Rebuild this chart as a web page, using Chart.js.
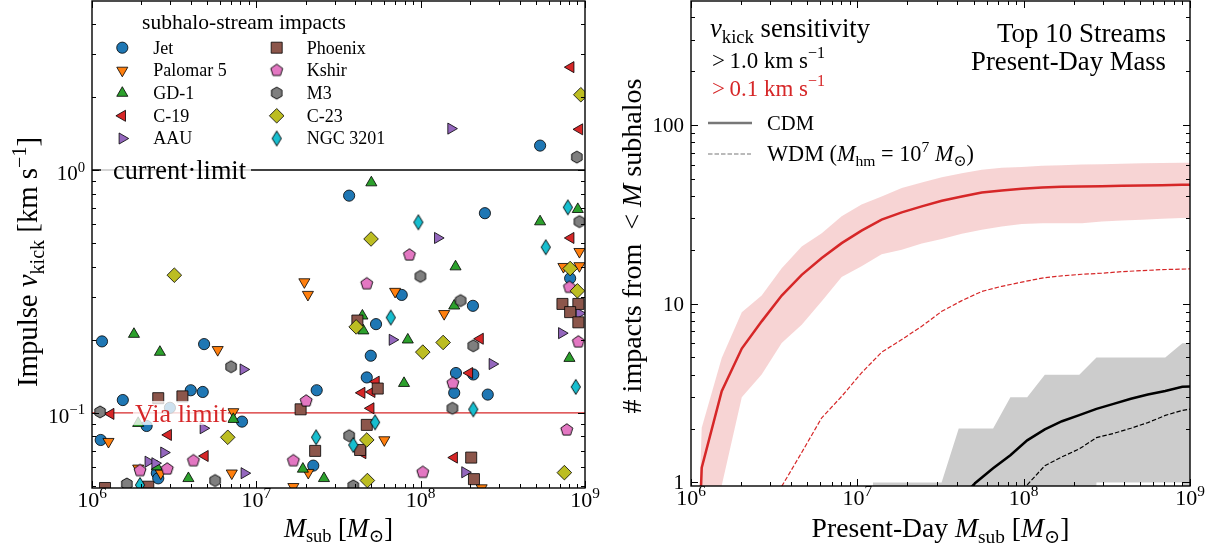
<!DOCTYPE html>
<html>
<head>
<meta charset="utf-8">
<script src="https://cdn.jsdelivr.net/npm/chart.js@4.4.1/dist/chart.umd.min.js"></script>
<style>
  body { margin: 0; background: #fff; }
  #wrap { position: relative; width: 1215px; height: 550px; }
  canvas { position: absolute; top: 0; }
</style>
</head>
<body>
<div id="wrap">
  <canvas id="impactChart" width="600" height="550" style="left:0"></canvas>
  <canvas id="countChart" width="615" height="550" style="left:600px"></canvas>
</div>
<script>
// ---- left panel: individual subhalo-stream impacts, [M_sub (Msun), v_kick (km/s)] ----
const streamNames = ['Jet', 'Palomar 5', 'GD-1', 'C-19', 'AAU', 'Phoenix', 'Kshir', 'M3', 'C-23', 'NGC 3201'];

const jetImpacts = [
  [1.15e6, 0.197], [4.81e6, 0.192], [1.54e6, 0.113], [2.98e6, 0.105], [3.99e6, 0.124], [4.72e6, 0.122],
  [8.18e6, 0.0921], [2.15e6, 0.0884], [1.13e6, 0.0774], [2.48e6, 0.0565], [2.53e6, 0.0538],
  [2.33e7, 0.124], [2.22e7, 0.0607], [5.33e8, 1.26], [3.67e7, 0.784], [2.46e8, 0.664], [8.12e8, 0.358],
  [7.67e7, 0.306], [2.08e8, 0.276], [5.35e7, 0.232], [4.97e7, 0.172], [1.64e8, 0.146], [2.09e8, 0.144],
  [1.60e8, 0.121], [2.56e8, 0.119], [4.70e7, 0.140]
];
const pal5Impacts = [
  [5.82e6, 0.182], [7.24e6, 0.101], [1.26e6, 0.0762], [2.62e6, 0.0565], [1.91e6, 0.0592], [7.09e6, 0.0565],
  [2.07e7, 0.0568], [1.68e7, 0.0497], [1.96e7, 0.346], [2.06e7, 0.307], [6.99e7, 0.316], [1.39e8, 0.256],
  [9.25e8, 0.461], [7.39e8, 0.400], [9.25e8, 0.403], [6.01e7, 0.0774], [2.35e8, 0.0491]
];
const gd1Impacts = [
  [1.80e6, 0.211], [2.59e6, 0.178], [7.24e6, 0.0942], [1.91e6, 0.0907], [2.48e6, 0.0601], [3.86e6, 0.0538],
  [1.92e7, 0.0588], [2.58e7, 0.0538], [5.01e7, 0.887], [5.33e8, 0.613], [9.04e8, 0.689], [1.63e8, 0.400],
  [1.60e8, 0.276], [4.42e7, 0.251], [4.48e7, 0.218], [8.35e7, 0.200], [8.04e8, 0.168], [7.92e7, 0.1325]
];
const c19Impacts = [
  [1.30e6, 0.0991], [2.91e6, 0.0812], [4.87e6, 0.0665], [8.19e8, 2.65], [9.25e8, 1.47], [8.19e8, 0.525],
  [2.30e8, 0.202], [1.98e8, 0.146], [5.35e7, 0.1345], [4.38e7, 0.121], [5.04e7, 0.122], [4.97e7, 0.1045],
  [4.44e7, 0.0683], [1.60e8, 0.0655]
];
const aauImpacts = [
  [8.33e6, 0.151], [4.76e6, 0.0865], [2.74e6, 0.0687], [2.20e6, 0.0630], [2.42e6, 0.0621], [8.45e6, 0.0565],
  [1.53e8, 1.48], [1.27e8, 0.525], [6.73e7, 0.200], [7.22e8, 0.213], [2.73e8, 0.159], [1.86e8, 0.0570],
  [9.25e8, 0.257]
];
const phoenixImpacts = [
  [2.53e6, 0.115], [3.55e6, 0.117], [2.20e6, 0.0497], [1.20e6, 0.0491], [1.86e7, 0.1035], [2.28e7, 0.0698],
  [4.12e7, 0.240], [5.48e7, 0.126], [4.70e7, 0.0893], [4.28e7, 0.0704], [2.03e8, 0.0655], [2.11e8, 0.0534],
  [7.29e8, 0.281], [9.11e8, 0.281], [8.12e8, 0.260], [9.11e8, 0.236]
];
const kshirImpacts = [
  [2.01e7, 0.112], [1.68e7, 0.0636], [4.14e6, 0.0636], [1.96e6, 0.0579], [2.87e6, 0.0588], [8.54e7, 0.447],
  [4.70e7, 0.340], [8.04e8, 0.329], [9.11e8, 0.196], [1.57e8, 0.1325], [7.75e8, 0.0851], [1.03e8, 0.0570]
];
const m3Impacts = [
  [7.02e6, 0.155], [1.12e6, 0.101], [5.61e6, 0.0527], [1.63e6, 0.0510], [8.92e8, 1.13], [9.25e8, 0.613],
  [9.96e7, 0.365], [1.75e8, 0.290], [2.09e8, 0.189], [1.56e8, 0.1045], [3.67e7, 0.0806], [3.89e7, 0.0501]
];
const c23Impacts = [
  [6.70e6, 0.0794], [3.17e6, 0.369], [9.43e8, 2.04], [4.99e7, 0.520], [8.12e8, 0.393], [8.99e8, 0.318],
  [4.05e7, 0.226], [1.37e8, 0.195], [1.03e8, 0.178], [4.70e7, 0.0774], [7.49e8, 0.0568], [4.74e7, 0.0527]
];
const ngc3201Impacts = [
  [2.31e7, 0.0794], [1.96e6, 0.0505], [9.68e7, 0.609], [7.86e8, 0.702], [5.77e8, 0.481], [6.58e7, 0.247],
  [8.79e8, 0.128], [2.09e8, 0.1035], [5.28e7, 0.0915], [3.89e7, 0.0738]
];
const streamImpacts = [jetImpacts, pal5Impacts, gd1Impacts, c19Impacts, aauImpacts,
  phoenixImpacts, kshirImpacts, m3Impacts, c23Impacts, ngc3201Impacts];

// velocity sensitivity limits (km/s)
const currentLimit = 1.0;
const viaLimit = 0.1;

// ---- right panel: cumulative impacts on the top 10 streams ----
const ZERO = 1e-3; // no impacts (sits far below the log axis)

const massRed = [8.79e5, 1.16e6, 1.53e6, 2.02e6, 2.66e6, 3.51e6, 4.63e6, 6.11e6, 8.05e6, 1.06e7, 1.40e7,
  1.85e7, 2.44e7, 3.22e7, 4.25e7, 5.60e7, 7.38e7, 9.75e7, 1.29e8, 1.69e8, 2.24e8, 2.95e8, 3.89e8,
  5.13e8, 6.78e8, 8.93e8, 1.18e9];
// v_kick > 0.1 km/s
const cdmFast = [ZERO, 1.21, 3.24, 5.61, 7.96, 11.1, 14.5, 18.0, 21.8, 25.6, 29.5, 32.4, 35.0, 37.6,
  39.7, 41.8, 42.9, 43.9, 44.6, 45.1, 45.2, 45.4, 45.6, 45.8, 46.0, 46.2, 46.3];
const cdmFastHi = [ZERO, 2.02, 4.97, 8.94, 11.1, 15.8, 20.9, 24.8, 30.8, 35.8, 39.7, 44.3, 47.6, 51.0,
  53.7, 56.1, 57.5, 58.2, 59.0, 59.4, 60.0, 60.3, 60.7, 61.0, 61.2, 61.4, 61.4];
const cdmFastLo = [ZERO, ZERO, 0.96, 3.0, 4.01, 6.03, 7.63, 10.3, 14.1, 16.2, 18.9, 20.0, 21.7, 23.0,
  24.6, 25.9, 27.0, 27.9, 28.2, 28.2, 28.2, 28.8, 29.2, 29.5, 29.8, 30.1, 30.2];
const wdmFast = [null, null, null, null, null, 0.95, 1.47, 2.30, 3.03, 4.10, 5.35, 6.30, 7.47, 9.06,
  10.4, 11.7, 12.5, 13.2, 13.9, 14.3, 14.6, 14.8, 15.1, 15.3, 15.5, 15.6, 15.7];

const massBlack = [1.24e7, 1.57e7, 1.99e7, 2.53e7, 3.21e7, 4.07e7, 5.16e7, 6.55e7, 8.32e7, 1.05e8,
  1.34e8, 1.70e8, 2.16e8, 2.74e8, 3.47e8, 4.41e8, 5.58e8, 7.10e8, 8.99e8, 1.14e9];
// v_kick > 1.0 km/s
const cdmSlow = [null, null, null, null, null, 0.80, 1.0, 1.20, 1.42, 1.72, 1.98, 2.20, 2.38, 2.58,
  2.75, 2.94, 3.10, 3.25, 3.43, 3.45];
const cdmSlowHi = [1, 1, 1, 1, 1, 2, 2, 2, 3, 3, 4, 4, 4, 5, 5, 5, 5, 5, 6, 6];
const cdmSlowLo = [ZERO, ZERO, ZERO, ZERO, ZERO, ZERO, ZERO, ZERO, ZERO, ZERO, ZERO, ZERO, ZERO,
  1, 1, 1, 1, 1, 1, ZERO];
const wdmSlow = [null, null, null, null, null, null, null, null, 0.75, 0.97, 1.24, 1.39, 1.54, 1.78,
  1.88, 2.01, 2.16, 2.37, 2.53, 2.62];

// ---- axis ticks ----
const massTicks = [1e6, 1e7, 1e8, 1e9];
const massTickLabels = ['10^6', '10^7', '10^8', '10^9'];
const kickTicks = [0.1, 1];
const kickTickLabels = ['10^-1', '10^0'];
const countTicks = [1, 10, 100];
const countTickLabels = ['1', '10', '100'];

const SERIF = '"Liberation Serif", "DejaVu Serif", serif';
const RED = '#d62728';

// ---------- marker shapes ----------
function markerCanvas(w, h, color, path) {
  const c = document.createElement('canvas');
  c.width = w; c.height = h;
  const g = c.getContext('2d');
  g.translate(w / 2, h / 2);
  g.beginPath(); path(g); g.closePath();
  g.fillStyle = color; g.fill();
  g.lineWidth = 0.9; g.strokeStyle = '#000'; g.stroke();
  return c;
}
function polygon(n, r) {
  return g => {
    for (let k = 0; k < n; k++) {
      const a = k * 2 * Math.PI / n;
      const px = r * Math.sin(a), py = -r * Math.cos(a);
      if (k) g.lineTo(px, py); else g.moveTo(px, py);
    }
  };
}
const thinDiamond = g => { g.moveTo(0, -7.5); g.lineTo(4.6, 0); g.lineTo(0, 7.5); g.lineTo(-4.6, 0); };

const streamColors = ['#1f77b4', '#ff7f0e', '#2ca02c', '#d62728', '#9467bd',
  '#8c564b', '#e377c2', '#7f7f7f', '#bcbd22', '#17becf'];
const streamMarkers = [
  { pointStyle: 'circle', radius: 5.6 },
  { pointStyle: 'triangle', radius: 6.4, rotation: 180 },
  { pointStyle: 'triangle', radius: 6.4, rotation: 0 },
  { pointStyle: 'triangle', radius: 6.4, rotation: 270 },
  { pointStyle: 'triangle', radius: 6.4, rotation: 90 },
  { pointStyle: 'rect', radius: 7.8 },
  { pointStyle: markerCanvas(16, 16, streamColors[6], polygon(5, 6.3)), radius: 6 },
  { pointStyle: markerCanvas(16, 16, streamColors[7], polygon(6, 6.0)), radius: 6 },
  { pointStyle: 'rectRot', radius: 7.3 },
  { pointStyle: markerCanvas(12, 18, streamColors[9], thinDiamond), radius: 6 }
];

// ---------- text helpers (mathtext-like runs) ----------
function partFont(p, size) {
  const s = (p.sub || p.sup) ? size * 0.7 : size;
  return (p.i ? 'italic ' : '') + s.toFixed(2) + 'px ' + SERIF;
}
function richWidth(ctx, parts, size) {
  let w = 0;
  for (const p of parts) { ctx.font = partFont(p, size); w += ctx.measureText(p.t).width; }
  return w;
}
function drawRich(ctx, parts, x, y, o) {
  let size = o.size || 20;
  if (o.width) size *= o.width / richWidth(ctx, parts, size);
  const w = richWidth(ctx, parts, size);
  ctx.save();
  ctx.translate(x, y);
  if (o.rotate) ctx.rotate(o.rotate);
  ctx.fillStyle = o.color || '#000';
  ctx.textAlign = 'left';
  ctx.textBaseline = 'alphabetic';
  let cx = o.align === 'center' ? -w / 2 : o.align === 'right' ? -w : 0;
  for (const p of parts) {
    ctx.font = partFont(p, size);
    const dy = p.sub ? size * 0.22 : p.sup ? -size * 0.4 : 0;
    ctx.fillText(p.t, cx, size * 0.33 + dy);
    cx += ctx.measureText(p.t).width;
  }
  ctx.restore();
}
// '10^-1' -> base + superscript runs
function tickParts(label) {
  const [base, exp] = label.split('^');
  return exp === undefined ? [{ t: base }] : [{ t: base }, { t: exp.replace('-', '−'), sup: 1 }];
}

// ---------- inward ticks on all four sides, frame, tick labels ----------
function logTicks(min, max) {
  const out = [];
  for (let e = Math.floor(Math.log10(min)); e <= Math.ceil(Math.log10(max)); e++) {
    for (let m = 1; m < 10; m++) {
      const v = m * Math.pow(10, e);
      if (v >= min * 0.999 && v <= max * 1.001) out.push({ v, major: m === 1 });
    }
  }
  return out;
}
const tickText = {};
const framePlugin = {
  id: 'frame',
  afterDraw(chart) {
    const { ctx, chartArea: a, scales } = chart;
    ctx.save();
    ctx.strokeStyle = '#000';
    ctx.lineWidth = 1;
    ctx.beginPath();
    for (const t of logTicks(scales.x.min, scales.x.max)) {
      const px = Math.round(scales.x.getPixelForValue(t.v)) + 0.5;
      const len = t.major ? 7 : 4;
      ctx.moveTo(px, a.bottom); ctx.lineTo(px, a.bottom - len);
      ctx.moveTo(px, a.top); ctx.lineTo(px, a.top + len);
    }
    for (const t of logTicks(scales.y.min, scales.y.max)) {
      const py = Math.round(scales.y.getPixelForValue(t.v)) + 0.5;
      const len = t.major ? 7 : 4;
      ctx.moveTo(a.left, py); ctx.lineTo(a.left + len, py);
      ctx.moveTo(a.right, py); ctx.lineTo(a.right - len, py);
    }
    ctx.stroke();
    ctx.lineWidth = 1.4;
    ctx.strokeRect(a.left, a.top, a.right - a.left, a.bottom - a.top);
    ctx.restore();

    const labels = tickText[chart.canvas.id];
    scales.x.ticks.forEach((t, i) => {
      drawRich(ctx, tickParts(labels.x[i]), scales.x.getPixelForValue(t.value), a.bottom + 12,
        { size: 22, align: 'center' });
    });
    scales.y.ticks.forEach((t, i) => {
      const parts = tickParts(labels.y[i]);
      drawRich(ctx, parts, a.left - 7, scales.y.getPixelForValue(t.value) + (parts.length > 1 ? 3 : 0),
        { size: 21, align: 'right' });
    });
  }
};

function logAxis(min, max, ticks, size) {
  return {
    type: 'logarithmic', min, max,
    grid: { display: false, drawTicks: false },
    border: { display: false },
    ticks: { display: false },
    afterBuildTicks: s => { s.ticks = ticks.map(v => ({ value: v })); },
    afterFit: s => {
      if (s.isHorizontal()) { s.height = size; s.paddingLeft = s.paddingRight = 0; }
      else { s.width = size; s.paddingTop = s.paddingBottom = 0; }
    }
  };
}

// ---------- left panel ----------
const impactLabels = {
  id: 'impactLabels',
  afterDatasetsDraw(chart) {
    const { ctx, chartArea: a, scales } = chart;
    // labels sitting on the two limit lines
    const yCur = scales.y.getPixelForValue(currentLimit);
    const yVia = scales.y.getPixelForValue(viaLimit);
    ctx.save();
    ctx.fillStyle = 'rgba(255,255,255,0.78)';
    ctx.fillRect(a.left + 9, yCur - 13, 150, 26);
    ctx.fillRect(a.left + 41, yVia - 12, 95, 24);
    ctx.restore();
    drawRich(ctx, [{ t: 'current·limit' }], a.left + 21, yCur, { size: 21, width: 133 });
    drawRich(ctx, [{ t: 'Via limit' }], a.left + 43, yVia, { size: 21, width: 92, color: RED });

    // legend, two columns
    drawRich(ctx, [{ t: 'subhalo-stream impacts' }], a.left + 50, 22, { size: 19, width: 204 });
    streamNames.forEach((name, i) => {
      const col = Math.floor(i / 5), row = i % 5;
      const y = 47.7 + row * 22.7;
      const mk = streamMarkers[i];
      ctx.save();
      ctx.fillStyle = streamColors[i];
      ctx.strokeStyle = '#000';
      ctx.lineWidth = 0.8;
      Chart.helpers.drawPoint(ctx, { pointStyle: mk.pointStyle, rotation: mk.rotation || 0,
        radius: mk.radius, borderWidth: 0.8 }, a.left + (col ? 184.7 : 30.3), y);
      ctx.restore();
      drawRich(ctx, [{ t: name }], a.left + (col ? 214.7 : 61.3), y, { size: 18 });
    });
  },
  afterDraw(chart) {
    const { ctx, chartArea: a } = chart;
    drawRich(ctx, [{ t: 'M', i: 1 }, { t: 'sub', sub: 1 }, { t: ' [' }, { t: 'M', i: 1 }, { t: '⊙', sub: 1 }, { t: ']' }],
      (a.left + a.right) / 2, 528, { size: 26, width: 109, align: 'center' });
    drawRich(ctx, [{ t: 'Impulse ' }, { t: 'v', i: 1 }, { t: 'kick', sub: 1 }, { t: ' [km s' }, { t: '−1', sup: 1 }, { t: ']' }],
      28, 262, { size: 26, width: 250, align: 'center', rotate: -Math.PI / 2 });
  }
};

const impactDatasets = streamNames.map((name, i) => ({
  label: name,
  data: streamImpacts[i].map(([m, v]) => ({ x: m, y: v })),
  backgroundColor: streamColors[i],
  borderColor: '#000',
  borderWidth: 0.8,
  pointStyle: streamMarkers[i].pointStyle,
  pointRadius: streamMarkers[i].radius,
  rotation: streamMarkers[i].rotation || 0,
  order: streamNames.length - i,
  clip: 0
}));

tickText.impactChart = { x: massTickLabels, y: kickTickLabels };
const impactChart = new Chart(document.getElementById('impactChart'), {
  type: 'scatter',
  data: {
    datasets: [
      { label: 'current limit', data: [{ x: 1e6, y: currentLimit }, { x: 1e9, y: currentLimit }],
        showLine: true, pointRadius: 0, borderColor: '#000', borderWidth: 1.3, order: 20, clip: 0 },
      { label: 'Via limit', data: [{ x: 1e6, y: viaLimit }, { x: 1e9, y: viaLimit }],
        showLine: true, pointRadius: 0, borderColor: RED, borderWidth: 1.3, order: 20, clip: 0 },
      ...impactDatasets
    ]
  },
  options: {
    responsive: false,
    animation: false,
    devicePixelRatio: 1,
    layout: { autoPadding: false, padding: { top: 1, right: 15, left: 0, bottom: 0 } },
    plugins: { legend: { display: false }, tooltip: { enabled: false } },
    scales: {
      x: logAxis(1e6, 1e9, massTicks, 62),
      y: logAxis(0.0491, 4.96, kickTicks, 92)
    }
  },
  plugins: [framePlugin, impactLabels]
});

// ---------- right panel ----------
const pts = (xs, ys) => xs.map((x, i) => ({ x, y: ys[i] }));
const NONE = 'rgba(0,0,0,0)';

const countLabels = {
  id: 'countLabels',
  afterDraw(chart) {
    const { ctx, chartArea: a } = chart;
    const L = a.left;
    drawRich(ctx, [{ t: 'v', i: 1 }, { t: 'kick', sub: 1 }, { t: ' sensitivity' }], L + 19, 28, { size: 21, width: 160 });
    drawRich(ctx, [{ t: '>\u20091.0 km s' }, { t: '−1', sup: 1 }], L + 21, 60, { size: 19, width: 113 });
    drawRich(ctx, [{ t: '>\u20090.1 km s' }, { t: '−1', sup: 1 }], L + 21, 88, { size: 19, width: 113, color: RED });

    ctx.save();
    ctx.strokeStyle = '#777';
    ctx.lineWidth = 2.5;
    ctx.beginPath(); ctx.moveTo(L + 17, 123); ctx.lineTo(L + 61, 123); ctx.stroke();
    ctx.lineWidth = 1.2;
    ctx.setLineDash([4.5, 2]);
    ctx.beginPath(); ctx.moveTo(L + 17, 154); ctx.lineTo(L + 60, 154); ctx.stroke();
    ctx.restore();
    drawRich(ctx, [{ t: 'CDM' }], L + 76, 123, { size: 20, width: 47 });
    drawRich(ctx, [{ t: 'WDM (' }, { t: 'M', i: 1 }, { t: 'hm', sub: 1 }, { t: ' = 10' }, { t: '7', sup: 1 },
      { t: ' ' }, { t: 'M', i: 1 }, { t: '⊙', sub: 1 }, { t: ')' }], L + 76, 154, { size: 20, width: 207 });

    drawRich(ctx, [{ t: 'Top 10 Streams' }], a.right - 24, 33, { size: 22, width: 169, align: 'right' });
    drawRich(ctx, [{ t: 'Present-Day Mass' }], a.right - 24, 61, { size: 22, width: 195, align: 'right' });

    drawRich(ctx, [{ t: 'Present-Day ' }, { t: 'M', i: 1 }, { t: 'sub', sub: 1 }, { t: ' [' }, { t: 'M', i: 1 },
      { t: '⊙', sub: 1 }, { t: ']' }], (a.left + a.right) / 2, 528, { size: 26, width: 258, align: 'center' });
    drawRich(ctx, [{ t: '# impacts from  < ' }, { t: 'M', i: 1 }, { t: ' subhalos' }],
      a.left - 59, 246, { size: 26, width: 335, align: 'center', rotate: -Math.PI / 2 });
  }
};

tickText.countChart = { x: massTickLabels, y: countTickLabels };
const countChart = new Chart(document.getElementById('countChart'), {
  type: 'line',
  data: {
    datasets: [
      { label: 'CDM >0.1 band', data: pts(massRed, cdmFastHi), fill: '+1', backgroundColor: 'rgba(214,39,40,0.2)',
        borderColor: NONE, borderWidth: 0, pointRadius: 0, order: 2, clip: 0 },
      { label: 'CDM >0.1 low', data: pts(massRed, cdmFastLo), fill: false,
        borderColor: NONE, borderWidth: 0, pointRadius: 0, order: 2, clip: 0 },
      { label: 'CDM >1.0 band', data: pts(massBlack, cdmSlowHi), fill: '+1', backgroundColor: 'rgba(0,0,0,0.2)',
        borderColor: NONE, borderWidth: 0, pointRadius: 0, order: 3, clip: 0 },
      { label: 'CDM >1.0 low', data: pts(massBlack, cdmSlowLo), fill: false,
        borderColor: NONE, borderWidth: 0, pointRadius: 0, order: 3, clip: 0 },
      { label: 'CDM >0.1', data: pts(massRed, cdmFast), borderColor: RED, borderWidth: 2.5,
        pointRadius: 0, order: 1, clip: 0 },
      { label: 'WDM >0.1', data: pts(massRed, wdmFast), borderColor: RED, borderWidth: 1.2,
        borderDash: [4.5, 2], pointRadius: 0, order: 1, clip: 0 },
      { label: 'CDM >1.0', data: pts(massBlack, cdmSlow), borderColor: '#000', borderWidth: 2.5,
        pointRadius: 0, order: 1, clip: 0 },
      { label: 'WDM >1.0', data: pts(massBlack, wdmSlow), borderColor: '#000', borderWidth: 1.2,
        borderDash: [4.5, 2], pointRadius: 0, order: 1, clip: 0 }
    ]
  },
  options: {
    responsive: false,
    animation: false,
    devicePixelRatio: 1,
    elements: { line: { tension: 0 } },
    layout: { autoPadding: false, padding: { top: 1, right: 25, left: 0, bottom: 0 } },
    plugins: { legend: { display: false }, tooltip: { enabled: false } },
    scales: {
      x: logAxis(1e6, 1e9, massTicks, 64),
      y: logAxis(0.955, 493, countTicks, 91)
    }
  },
  plugins: [framePlugin, countLabels]
});
</script>
</body>
</html>
